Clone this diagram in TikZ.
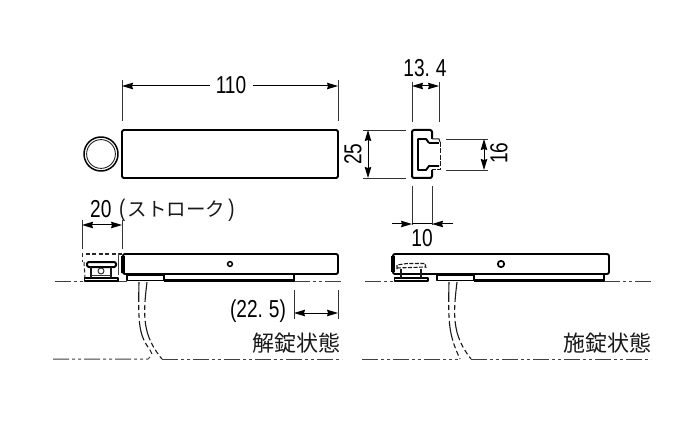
\documentclass[tikz,border=0pt]{standalone}
\usepackage{fontspec}
\setmainfont{Liberation Sans}[FakeStretch=0.78]
\newfontfamily\jpfont{Noto Sans CJK JP}
\usetikzlibrary{arrows.meta}
\tikzset{
  dimtip/.tip={Stealth[length=11pt,width=6.5pt,inset=1pt]},
  dimline/.style={line width=1pt,black},
  extline/.style={line width=0.9pt,black!80},
  heavy/.style={line width=2pt,black,line join=round},
  medium/.style={line width=1.3pt,black,line join=round},
  hidden/.style={line width=1pt,black!85,dash pattern=on 4pt off 2.5pt},
  center line/.style={line width=1pt,black!75,dash pattern=on 16pt off 3pt on 3pt off 3pt on 3pt off 3pt},
  cable/.style={line width=1.1pt,black!90,dash pattern=on 20pt off 3pt on 5pt off 3pt on 5pt off 3pt},
  num/.style={inner sep=0pt,font=\fontsize{24.5}{24.5}\selectfont,black},
  jp/.style={inner sep=0pt,font=\jpfont\fontsize{20}{20}\selectfont,black!90}
}
\begin{document}
\begin{tikzpicture}[x=1pt,y=-1pt]
\useasboundingbox (0,0) rectangle (700,435);
\fill[white] (0,0) rectangle (700,435);

% --- top view
\draw[heavy,line width=1.9pt,rounded corners=1.5pt] (122,130) rectangle (338,178);
\draw[heavy,line width=2.4pt] (122,132) -- (122,176);
\draw[medium,line width=1.5pt] (101,154) circle (17);
\draw[line width=0.9pt,black!85] (101,154) circle (14.4);

% 110
\coordinate (a1) at (122,86); \coordinate (a2) at (338,86);
\draw[extline] (122,80) -- (122,121) (338,80) -- (338,121);
\node[num] (t110) at (231,85) {110};
\draw[dimline,{dimtip}-] (a1) -- (210,86);
\draw[dimline,-{dimtip}] (253,86) -- (a2);

% --- end profile
\draw[heavy,rounded corners=2pt] (432,139) -- (432,130) -- (412,130) -- (412,178) -- (432,178) -- (432,170);
\draw[heavy,line width=1.9pt] (429,143) -- (426,139) -- (418,139) -- (418,170) -- (426,170) -- (429,166) -- (439,166);
\draw[medium,line width=1.5pt] (429,143) -- (439,143);
\draw[line width=1pt,black!90] (432,139) -- (439,139) -- (440,142);
\draw[line width=1pt,black!90,dash pattern=on 5pt off 1.5pt] (440,142) -- (440,170) -- (432,170);

% 13.4
\draw[extline] (412,82) -- (412,122) (439,82) -- (439,122);
\coordinate (b0) at (426,86);
\draw[dimline,{dimtip}-{dimtip}] (412,86) -- (439,86);
\node[num] at (425,68) {13.\kern6pt 4};

% 25
\draw[extline] (363,130) -- (406,130) (363,178) -- (406,178);
\draw[dimline,{dimtip}-{dimtip}] (368,130) -- (368,178);
\node[num,rotate=90] at (353,154) {25};

% 16
\draw[extline] (446,139) -- (488,139) (446,170) -- (488,170);
\draw[dimline,{dimtip}-{dimtip}] (484,139) -- (484,170);
\node[num,rotate=90] at (499,153) {16};

% 10
\draw[extline] (412,186) -- (412,225) (432,186) -- (432,225);
\draw[dimline,-{dimtip}] (392,224) -- (412,224);
\draw[dimline,-{dimtip}] (453,224) -- (432,224);
\draw[dimline] (412,224) -- (432,224);
\node[num] at (422,238) {10};

% --- unlocked state
\draw[center line] (55,281) -- (127,281);
\draw[center line] (294,281) -- (341,281);
\draw[center line] (53,359) -- (134,359) -- (148,359) -- (150,357);
\draw[center line] (162,359) -- (342,359);
\draw[cable] (139,282) .. controls (138,325) and (139,335) .. (150,350) -- (152,354);
\draw[cable] (147,282) .. controls (143,315) and (142,335) .. (162,359);
\draw[heavy,line width=1.9pt,rounded corners=2pt,fill=white] (123,254) -- (338,254) -- (338,274) -- (123,274) -- cycle;
\draw[heavy,line width=3.2pt] (123,256) -- (123,273);
\draw[heavy,line width=2.8pt] (338,256) -- (338,272);
\draw[heavy,line width=1.8pt,fill=white] (127,275) rectangle (164,280.5);
\draw[heavy,line width=2.6pt] (127,274.8) -- (164,274.8);
\draw[heavy,line width=2.1pt] (164,280.5) -- (294,280.5) -- (294,274);
\draw[medium,line width=1.5pt] (230,264) circle (2.4);

% button
\draw[hidden] (122,254) -- (82,254) -- (82,262);
\draw[hidden] (84,262) -- (85,278);
\draw[line width=0.9pt,black!75] (118,253) -- (118,275);
\draw[heavy,line width=1.9pt,fill=white] (84.5,278) rectangle (118,281);
\draw[heavy,line width=2pt,rounded corners=2pt,fill=white] (87,267) -- (87,262) -- (116,262) -- (116,267) -- cycle;
\draw[line width=1.2pt,black!90] (91,267) -- (91,278) (111,267) -- (111,278);
\draw[line width=0.9pt,black!80] (91,275) -- (111,275);
\draw[line width=0.9pt,black!85,fill=white] (101,271) circle (3);

% 20
\draw[extline] (82,220) -- (82,249) (122,220) -- (122,249);
\draw[dimline,{dimtip}-{dimtip}] (82,225) -- (122,225);
\node[num,anchor=west] at (90,209) {20};
\node[jp,anchor=west] at (119,210) {{\rmfamily\fontsize{24}{24}\selectfont (}\kern2.5pt\fontsize{19.5}{19.5}\selectfont ストローク\kern3pt{\rmfamily\fontsize{24}{24}\selectfont )}};

% 22.5
\draw[extline] (294,290) -- (294,319) (338,290) -- (338,319);
\draw[dimline,{dimtip}-{dimtip}] (294,313) -- (338,313);
\node[num] at (258,311) {(22.\kern6pt 5)};
\node[jp,anchor=east] at (341,343) {\fontsize{22}{22}\selectfont 解錠状態};

% --- locked state
\draw[center line] (365,281) -- (394,281);
\draw[center line] (604,281) -- (651,281);
\draw[center line] (362,359) -- (448,359) -- (458,359);
\draw[center line] (471,359) -- (651,359);
\draw[cable] (449,282) .. controls (448,325) and (449,335) .. (460,359);
\draw[cable] (457,282) .. controls (453,315) and (452,335) .. (471,359);
\draw[heavy,line width=1.9pt,rounded corners=2pt,fill=white] (393,254) -- (609,254) -- (609,274) -- (393,274) -- cycle;
\draw[heavy,line width=3.2pt] (393,256) -- (393,272);
\draw[heavy,line width=2.8pt] (609,256) -- (609,272);
\draw[heavy,line width=1.8pt,fill=white] (437,275) rectangle (474,280.5);
\draw[heavy,line width=2.8pt] (437,274.8) -- (474,274.8);
\draw[heavy,line width=2.1pt] (474,280.5) -- (604,280.5) -- (604,274);
\draw[medium,line width=1.7pt] (501,264) circle (3.2);
\draw[heavy,line width=1.9pt,fill=white] (394.5,278) rectangle (428,281);
\draw[line width=1.1pt,black!90] (401,269) -- (401,278) (421,269) -- (421,278);
\draw[line width=1.1pt,black!90,dash pattern=on 4pt off 1.5pt] (397,269) -- (397,265) -- (407,263.5) -- (425,263.5) -- (426,268);
\draw[line width=1.1pt,black!90,dash pattern=on 4pt off 1.5pt] (397,268) -- (425,267);
\node[jp,anchor=east] at (652,343) {\fontsize{22}{22}\selectfont 施錠状態};
\end{tikzpicture}
\end{document}
